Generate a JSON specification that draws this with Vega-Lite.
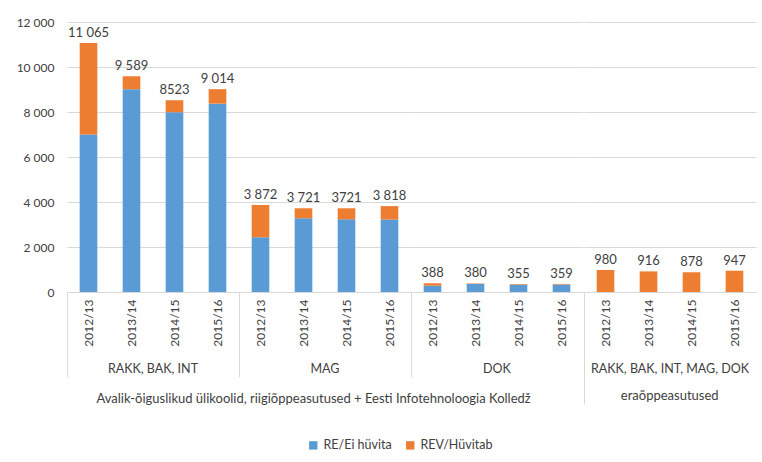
{
  "$schema": "https://vega.github.io/schema/vega-lite/v6.json",
  "padding": {"left": 16, "top": 16, "right": 5, "bottom": 5},
  "config": {
    "locale": {"number": {"decimal": ",", "thousands": " ", "grouping": [3], "currency": ["", " €"]}},
    "font": "Lato",
    "view": {"stroke": null},
    "axis": {"labelFont": "Lato", "labelColor": "#404040", "labelFontSize": 12, "titleFont": "Lato"},
    "header": {"labelFont": "Lato", "labelFontSize": 12.5, "labelColor": "#404040"},
    "title": {"font": "Lato", "fontSize": 13, "fontWeight": "normal", "color": "#404040"},
    "legend": {"labelFont": "Lato", "labelFontSize": 12.5, "labelColor": "#404040"}
  },
  "datasets": {
    "d": [
      {"inst": "pub", "grp": "RAKK, BAK, INT", "year": "2012/13", "series": "RE/Ei hüvita", "value": 7000, "total": 11065, "label": "11 065"},
      {"inst": "pub", "grp": "RAKK, BAK, INT", "year": "2012/13", "series": "REV/Hüvitab", "value": 4065, "total": 11065, "label": "11 065"},
      {"inst": "pub", "grp": "RAKK, BAK, INT", "year": "2013/14", "series": "RE/Ei hüvita", "value": 9010, "total": 9589, "label": "9 589"},
      {"inst": "pub", "grp": "RAKK, BAK, INT", "year": "2013/14", "series": "REV/Hüvitab", "value": 579, "total": 9589, "label": "9 589"},
      {"inst": "pub", "grp": "RAKK, BAK, INT", "year": "2014/15", "series": "RE/Ei hüvita", "value": 7990, "total": 8523, "label": "8523"},
      {"inst": "pub", "grp": "RAKK, BAK, INT", "year": "2014/15", "series": "REV/Hüvitab", "value": 533, "total": 8523, "label": "8523"},
      {"inst": "pub", "grp": "RAKK, BAK, INT", "year": "2015/16", "series": "RE/Ei hüvita", "value": 8370, "total": 9014, "label": "9 014"},
      {"inst": "pub", "grp": "RAKK, BAK, INT", "year": "2015/16", "series": "REV/Hüvitab", "value": 644, "total": 9014, "label": "9 014"},
      {"inst": "pub", "grp": "MAG", "year": "2012/13", "series": "RE/Ei hüvita", "value": 2430, "total": 3872, "label": "3 872"},
      {"inst": "pub", "grp": "MAG", "year": "2012/13", "series": "REV/Hüvitab", "value": 1442, "total": 3872, "label": "3 872"},
      {"inst": "pub", "grp": "MAG", "year": "2013/14", "series": "RE/Ei hüvita", "value": 3280, "total": 3721, "label": "3 721"},
      {"inst": "pub", "grp": "MAG", "year": "2013/14", "series": "REV/Hüvitab", "value": 441, "total": 3721, "label": "3 721"},
      {"inst": "pub", "grp": "MAG", "year": "2014/15", "series": "RE/Ei hüvita", "value": 3230, "total": 3721, "label": "3721"},
      {"inst": "pub", "grp": "MAG", "year": "2014/15", "series": "REV/Hüvitab", "value": 491, "total": 3721, "label": "3721"},
      {"inst": "pub", "grp": "MAG", "year": "2015/16", "series": "RE/Ei hüvita", "value": 3220, "total": 3818, "label": "3 818"},
      {"inst": "pub", "grp": "MAG", "year": "2015/16", "series": "REV/Hüvitab", "value": 598, "total": 3818, "label": "3 818"},
      {"inst": "pub", "grp": "DOK", "year": "2012/13", "series": "RE/Ei hüvita", "value": 280, "total": 388, "label": "388"},
      {"inst": "pub", "grp": "DOK", "year": "2012/13", "series": "REV/Hüvitab", "value": 108, "total": 388, "label": "388"},
      {"inst": "pub", "grp": "DOK", "year": "2013/14", "series": "RE/Ei hüvita", "value": 360, "total": 380, "label": "380"},
      {"inst": "pub", "grp": "DOK", "year": "2013/14", "series": "REV/Hüvitab", "value": 20, "total": 380, "label": "380"},
      {"inst": "pub", "grp": "DOK", "year": "2014/15", "series": "RE/Ei hüvita", "value": 330, "total": 355, "label": "355"},
      {"inst": "pub", "grp": "DOK", "year": "2014/15", "series": "REV/Hüvitab", "value": 25, "total": 355, "label": "355"},
      {"inst": "pub", "grp": "DOK", "year": "2015/16", "series": "RE/Ei hüvita", "value": 330, "total": 359, "label": "359"},
      {"inst": "pub", "grp": "DOK", "year": "2015/16", "series": "REV/Hüvitab", "value": 29, "total": 359, "label": "359"},
      {"inst": "priv", "grp": "RAKK, BAK, INT, MAG, DOK", "year": "2012/13", "series": "REV/Hüvitab", "value": 980, "total": 980, "label": "980"},
      {"inst": "priv", "grp": "RAKK, BAK, INT, MAG, DOK", "year": "2013/14", "series": "REV/Hüvitab", "value": 916, "total": 916, "label": "916"},
      {"inst": "priv", "grp": "RAKK, BAK, INT, MAG, DOK", "year": "2014/15", "series": "REV/Hüvitab", "value": 878, "total": 878, "label": "878"},
      {"inst": "priv", "grp": "RAKK, BAK, INT, MAG, DOK", "year": "2015/16", "series": "REV/Hüvitab", "value": 947, "total": 947, "label": "947"}
    ]
  },
  "hconcat": [
    {
      "data": {"name": "d"},
      "transform": [{"filter": "datum.inst == 'pub'"}],
      "title": {"text": "Avalik-õiguslikud ülikoolid, riigiõppeasutused + Eesti Infotehnoloogia Kolledž", "orient": "bottom", "anchor": "middle", "offset": 15, "dx": 14},
      "spacing": 0,
      "facet": {
        "column": {
          "field": "grp", "type": "nominal", "sort": ["RAKK, BAK, INT", "MAG", "DOK"],
          "header": {"labelOrient": "bottom", "title": null, "labelPadding": -15}
        }
      },
      "spec": {
        "width": 172,
        "height": 270,
        "layer": [
          {
            "mark": {"type": "bar"},
            "encoding": {
              "x": {
                "field": "year", "type": "ordinal",
                "scale": {"paddingInner": 0.59, "paddingOuter": 0.295},
                "axis": {
                  "title": null, "labelAngle": -90, "labelPadding": -78,
                  "domainColor": "#d9d9d9", "bandPosition": 0, "tickOffset": -12.7, "labelOffset": 12.7,
                  "tickSize": 85, "tickColor": {"condition": {"test": "datum.value == '2012/13'", "value": "#d9d9d9"}, "value": "transparent"}
                }
              },
              "y": {
                "field": "value", "type": "quantitative", "stack": "zero",
                "scale": {"domain": [0, 12000], "nice": false},
                "axis": {"title": null, "values": [0, 2000, 4000, 6000, 8000, 10000, 12000], "format": ",d", "domain": false, "ticks": false, "labelPadding": 13, "gridColor": "#d9d9d9"}
              },
              "color": {
                "field": "series", "type": "nominal",
                "scale": {"domain": ["RE/Ei hüvita", "REV/Hüvitab"], "range": ["#5B9BD5", "#ED7D31"]},
                "legend": {"title": null, "orient": "none", "legendX": 240, "legendY": 417, "direction": "horizontal", "symbolType": "square", "symbolSize": 70, "columnPadding": 12}
              },
              "order": {"field": "series", "sort": "ascending"}
            }
          },
          {
            "transform": [{"filter": "datum.series == 'REV/Hüvitab'"}],
            "mark": {"type": "text", "dy": -10, "fontSize": 13, "color": "#404040", "font": "Lato"},
            "encoding": {
              "x": {"field": "year", "type": "ordinal"},
              "y": {"field": "total", "type": "quantitative"},
              "text": {"field": "label"}
            }
          }
        ]
      }
    },
    {
      "data": {"name": "d"},
      "transform": [{"filter": "datum.inst == 'priv'"}],
      "title": {"text": "eraõppeasutused", "orient": "bottom", "anchor": "middle", "offset": -15},
      "spacing": 0,
      "facet": {
        "column": {
          "field": "grp", "type": "nominal",
          "header": {"labelOrient": "bottom", "title": null, "labelPadding": -42}
        }
      },
      "spec": {
        "width": 172,
        "height": 270,
        "layer": [
          {
            "mark": {"type": "bar"},
            "encoding": {
              "x": {
                "field": "year", "type": "ordinal",
                "scale": {"paddingInner": 0.59, "paddingOuter": 0.295},
                "axis": {
                  "title": null, "labelAngle": -90, "labelPadding": -105,
                  "domainColor": "#d9d9d9", "bandPosition": 0, "tickOffset": -12.7, "labelOffset": 12.7,
                  "tickSize": 112, "tickColor": {"condition": {"test": "datum.value == '2012/13'", "value": "#d9d9d9"}, "value": "transparent"}
                }
              },
              "y": {
                "field": "value", "type": "quantitative", "stack": "zero",
                "scale": {"domain": [0, 12000], "nice": false},
                "axis": {"title": null, "values": [0, 2000, 4000, 6000, 8000, 10000, 12000], "labels": false, "domain": false, "ticks": false, "gridColor": "#d9d9d9"}
              },
              "color": {
                "field": "series", "type": "nominal",
                "scale": {"domain": ["RE/Ei hüvita", "REV/Hüvitab"], "range": ["#5B9BD5", "#ED7D31"]},
                "legend": {"title": null, "orient": "none", "legendX": 240, "legendY": 417, "direction": "horizontal", "symbolType": "square", "symbolSize": 70, "columnPadding": 12}
              },
              "order": {"field": "series", "sort": "ascending"}
            }
          },
          {
            "transform": [{"filter": "datum.series == 'REV/Hüvitab'"}],
            "mark": {"type": "text", "dy": -10, "fontSize": 13, "color": "#404040", "font": "Lato"},
            "encoding": {
              "x": {"field": "year", "type": "ordinal"},
              "y": {"field": "total", "type": "quantitative"},
              "text": {"field": "label"}
            }
          }
        ]
      }
    }
  ],
  "spacing": 0,
  "resolve": {"scale": {"y": "shared", "color": "shared"}}
}
